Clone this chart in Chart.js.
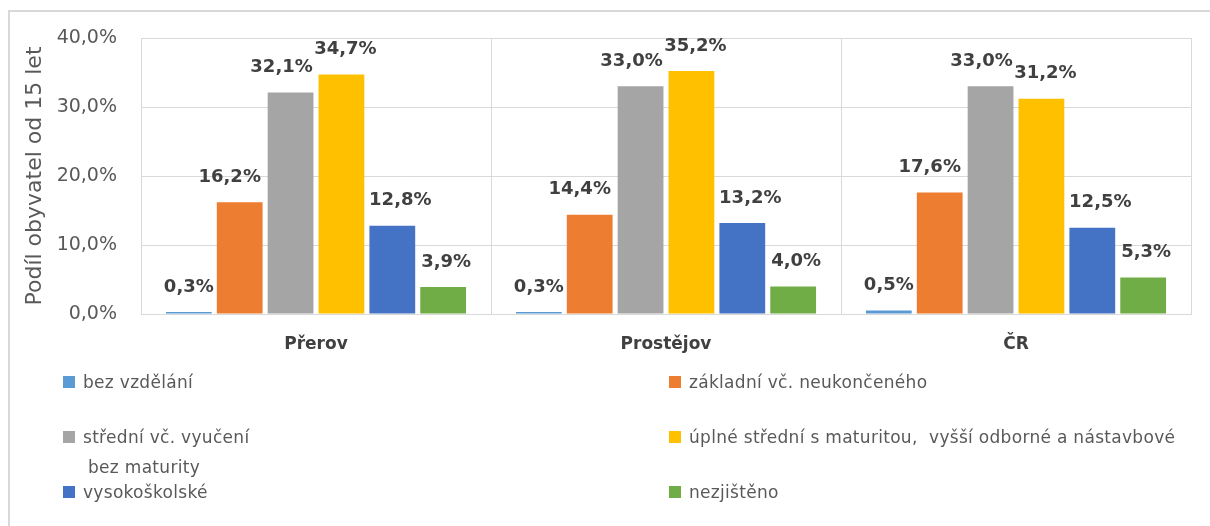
<!DOCTYPE html>
<html>
<head>
<meta charset="utf-8">
<script src="https://cdn.jsdelivr.net/npm/chart.js@4"></script>
<style>
  body { margin: 0; background: #fff; }
  #wrap { position: relative; width: 1210px; height: 526px; overflow: hidden; }
  #frame { position: absolute; left: 8px; top: 10px; width: 1300px; height: 600px;
           border-left: 2px solid #d9d9d9; border-top: 2px solid #d9d9d9; }
  canvas { position: absolute; left: 0; top: 0; }
  .leg { position: absolute; font-family: "DejaVu Sans", sans-serif; font-size: 17px;
         letter-spacing: 0.3px; color: #595959; line-height: 30px; white-space: pre; }
  .leg .sw { position: absolute; left: 0; top: 9px; width: 12px; height: 12px; }
  .leg .tx { position: absolute; left: 20px; top: 0; }
</style>
</head>
<body>
<div id="wrap">
  <div id="frame"></div>
  <canvas id="chart" width="1210" height="526"></canvas>
  <div id="legend"></div>
</div>
<script>
const categories = ["Přerov", "Prostějov", "ČR"];
const seriesNames = [
  "bez vzdělání",
  "základní vč. neukončeného",
  "střední vč. vyučení\nbez maturity",
  "úplné střední s maturitou,  vyšší odborné a nástavbové",
  "vysokoškolské",
  "nezjištěno",
];
const bezVzdelani = [0.3, 0.3, 0.5];
const zakladni = [16.2, 14.4, 17.6];
const stredniBezMaturity = [32.1, 33.0, 33.0];
const uplneStredni = [34.7, 35.2, 31.2];
const vysokoskolske = [12.8, 13.2, 12.5];
const nezjisteno = [3.9, 4.0, 5.3];
const yTicks = [0, 10, 20, 30, 40];

const seriesValues = [bezVzdelani, zakladni, stredniBezMaturity, uplneStredni, vysokoskolske, nezjisteno];
const seriesColors = ["#5b9bd5", "#ed7d31", "#a5a5a5", "#ffc000", "#4472c4", "#70ad47"];
// small horizontal shifts of the value labels, as in the original
const labelNudge = [0, -10, -9, 4, 8, 3];

const fmt = (v) => v.toFixed(1).replace(".", ",") + "%";
const FONT = '"DejaVu Sans", sans-serif';

const valueLabels = {
  id: "valueLabels",
  afterDatasetsDraw(chart) {
    const ctx = chart.ctx;
    ctx.save();
    ctx.font = 'bold 18px ' + FONT;
    ctx.fillStyle = "#404040";
    ctx.textAlign = "center";
    ctx.textBaseline = "middle";
    chart.data.datasets.forEach((ds, i) => {
      chart.getDatasetMeta(i).data.forEach((bar, j) => {
        ctx.fillText(fmt(ds.data[j]), bar.x + labelNudge[i], bar.y - 25);
      });
    });
    ctx.restore();
  },
};

new Chart(document.getElementById("chart"), {
  type: "bar",
  data: {
    labels: categories,
    datasets: seriesNames.map((name, i) => ({
      label: name.replace("\n", " "),
      data: seriesValues[i],
      backgroundColor: seriesColors[i],
      borderWidth: 0,
      categoryPercentage: 0.872,
      barPercentage: 0.9,
    })),
  },
  options: {
    responsive: false,
    animation: false,
    layout: { padding: { left: 0, top: 38, right: 19, bottom: 172 } },
    plugins: { legend: { display: false }, tooltip: { enabled: false } },
    scales: {
      x: {
        grid: { color: "#d9d9d9", offset: true, drawTicks: false },
        border: { color: "#d9d9d9" },
        ticks: { color: "#404040", padding: 20, font: { family: FONT, size: 17, weight: "bold" } },
        afterFit(s) { s.height = 40; },
      },
      y: {
        min: yTicks[0],
        max: yTicks[yTicks.length - 1],
        grid: { color: "#d9d9d9", drawTicks: false },
        border: { color: "#d9d9d9" },
        ticks: {
          stepSize: 10,
          padding: 24,
          color: "#595959",
          font: { family: FONT, size: 19 },
          callback: (v) => fmt(v),
        },
        title: {
          display: true,
          text: "Podíl obyvatel od 15 let",
          color: "#595959",
          font: { family: FONT, size: 22 },
          padding: { top: 22, bottom: 0 },
        },
        afterFit(s) { s.width = 141; },
      },
    },
  },
  plugins: [valueLabels],
});

// legend: two columns, three rows
const legCols = [63, 669];
const legRows = [382, 437, 492];
const legend = document.getElementById("legend");
seriesNames.forEach((name, i) => {
  const item = document.createElement("div");
  item.className = "leg";
  item.style.left = legCols[i % 2] + "px";
  item.style.top = legRows[Math.floor(i / 2)] - 15 + "px";
  const lines = name.split("\n").map((l, k) =>
    `<div style="margin-left:${k ? 5 : 0}px">${l}</div>`).join("");
  item.innerHTML = `<span class="sw" style="background:${seriesColors[i]}"></span><div class="tx">${lines}</div>`;
  legend.appendChild(item);
});
</script>
</body>
</html>
